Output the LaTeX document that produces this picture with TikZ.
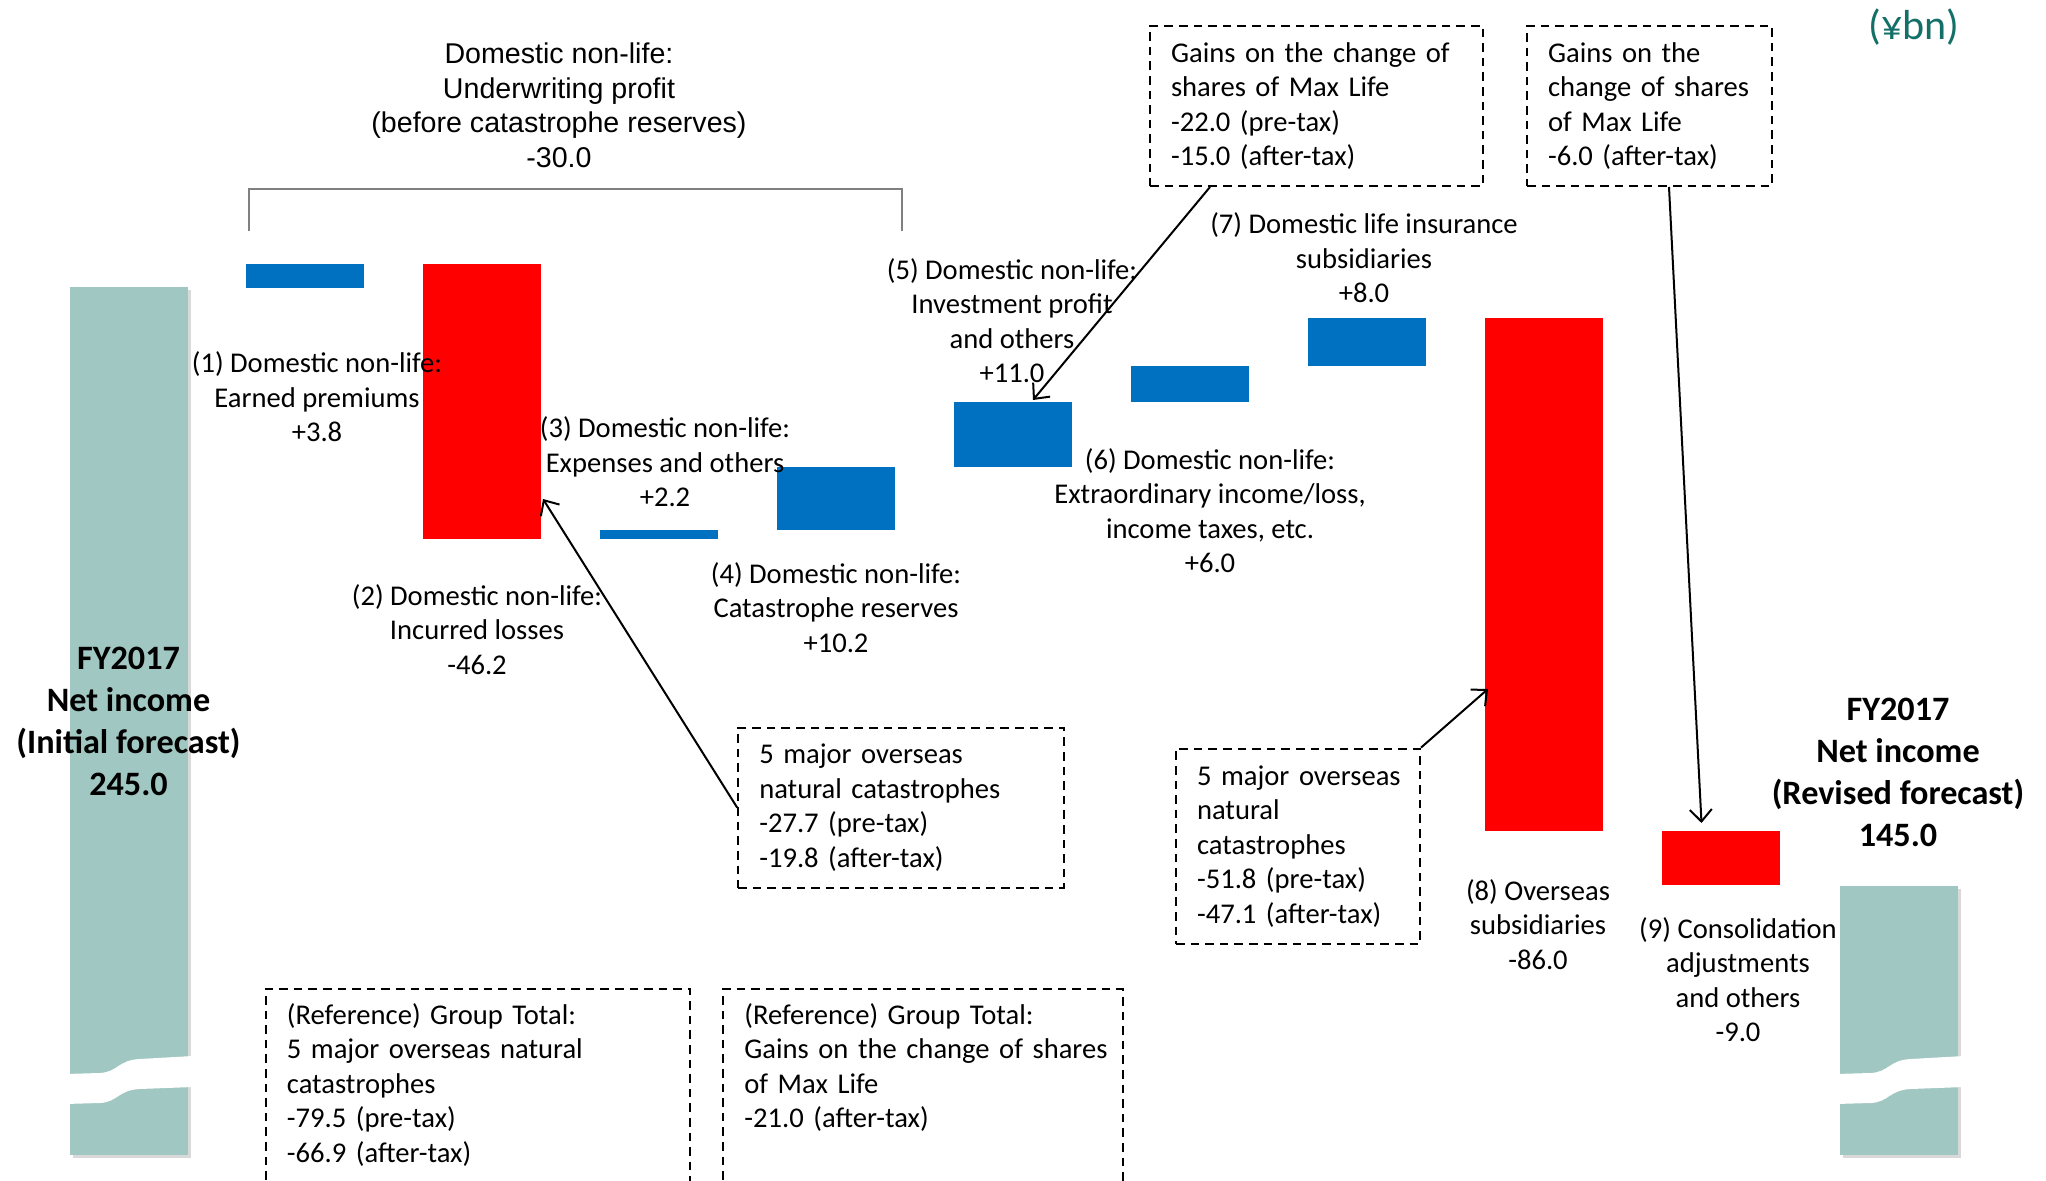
\documentclass[tikz,border=0pt]{standalone}
\usepackage{fontspec}
\setmainfont{Carlito}
\newfontfamily\titlefont{Liberation Sans}
\usetikzlibrary{calc,shadows,arrows.meta}
\definecolor{barteal}{RGB}{160,199,193}
\definecolor{barblue}{RGB}{0,112,192}
\definecolor{barred}{RGB}{255,0,0}
\definecolor{unitteal}{RGB}{18,112,104}

\begin{document}
\begin{tikzpicture}[x=0.5pt,y=-0.5pt,bar/.style={draw=none,minimum width=59pt,inner sep=0pt,outer sep=0pt},gainbar/.style={bar,fill=barblue},lossbar/.style={bar,fill=barred},totalbar/.style={bar,fill=barteal,drop shadow={shadow xshift=1.5pt,shadow yshift=-1.5pt,opacity=0.3}},barlabel/.style={align=center,inner sep=0pt,font=\fontsize{14.3}{17.25}\selectfont},totallabel/.style={align=center,inner sep=0pt,font=\fontsize{17.1}{21}\selectfont\bfseries},notetext/.style={align=left,inner xsep=10.5pt,inner ysep=7pt,font=\fontsize{14.3}{17.25}\selectfont,execute at begin node={\hyphenpenalty=10000\rightskip=0pt plus 1fil minus 40pt}},noteline/.style={dash pattern=on 4.3pt off 3pt,line width=1pt},note/.style={notetext,draw,noteline,inner ysep=0pt},arrow/.style={-{Straight Barb[length=6pt,width=11pt]},line width=1pt}]
  \useasboundingbox (0,0) rectangle (2046,1181);
  \node[totalbar,minimum height=434pt] (initial) at (128.5,721) {};
  \node[gainbar,minimum height=12pt] (premiums) at (305,276) {};
  \node[lossbar,minimum height=137.5pt] (losses) at (482,401.5) {};
  \node[gainbar,minimum height=4.5pt] (expenses) at (659,534.5) {};
  \node[gainbar,minimum height=31.5pt] (reserves) at (836,498.5) {};
  \node[gainbar,minimum height=32.5pt] (investment) at (1013,434.5) {};
  \node[gainbar,minimum height=18pt] (extraordinary) at (1190,384) {};
  \node[gainbar,minimum height=24pt] (lifesubs) at (1367,342) {};
  \node[lossbar,minimum height=256.5pt] (overseas) at (1544,574.5) {};
  \node[lossbar,minimum height=27pt] (consol) at (1721,858) {};
  \node[totalbar,minimum height=134.5pt] (revised) at (1899,1020.5) {};
  \foreach \bx in {0,1771}
    \fill[white] (65+\bx,1074) -- (100+\bx,1073) .. controls (118+\bx,1072) and (118+\bx,1060) .. (140+\bx,1059) -- (193+\bx,1056) -- (193+\bx,1087) -- (140+\bx,1089) .. controls (118+\bx,1090) and (118+\bx,1102) .. (100+\bx,1103) -- (65+\bx,1104) -- cycle;

  \draw[gray,line width=1pt] (249,231.5) |- (902,188.7) -- (902,231.5);
  \node[barlabel,font=\titlefont\fontsize{14.3}{17.2}\selectfont] (underwriting) at (559,105.3) {Domestic non-life:\\Underwriting profit\\(before catastrophe reserves)\\-30.0};
  \node[font=\fontsize{21}{24}\selectfont,text=unitteal,inner sep=0pt] (unit) at (1914,27) {(¥bn)};

  \node[totallabel] (initiallabel) at (initial) {FY2017\\Net income\\(Initial forecast)\\245.0};
  \node[barlabel] (premiumslabel) at ($ (premiums) + (12,121) $) {(1) Domestic non-life:\\Earned premiums\\+3.8};
  \node[barlabel] (losseslabel) at ($ (losses) + (-5,228) $) {(2) Domestic non-life:\\Incurred losses\\-46.2};
  \node[barlabel] (expenseslabel) at ($ (expenses) + (6,-72.5) $) {(3) Domestic non-life:\\Expenses and others\\+2.2};
  \node[barlabel] (reserveslabel) at ($ (reserves) + (0,109) $) {(4) Domestic non-life:\\Catastrophe reserves\\+10.2};
  \node[barlabel] (investmentlabel) at ($ (investment) + (-1,-114) $) {(5) Domestic non-life:\\Investment profit\\and others\\+11.0};
  \node[barlabel] (extraordinarylabel) at ($ (extraordinary) + (20,126.5) $) {(6) Domestic non-life:\\Extraordinary income/loss,\\income taxes, etc.\\+6.0};
  \node[barlabel] (lifesubslabel) at ($ (lifesubs) + (-3,-84) $) {(7) Domestic life insurance\\subsidiaries\\+8.0};
  \node[barlabel] (overseaslabel) at ($ (overseas) + (-6,350) $) {(8) Overseas\\subsidiaries\\-86.0};
  \node[barlabel] (consollabel) at ($ (consol) + (17,121.6) $) {(9) Consolidation\\adjustments\\and others\\-9.0};
  \node[totallabel] (revisedlabel) at ($ (revised) + (-1,-248) $) {FY2017\\Net income\\(Revised forecast)\\145.0};

  \node[note,text width=145.5pt,minimum height=80pt] (maxpre) at (1316.5,106) {Gains on the change of\\shares of Max Life\\-22.0 (pre-tax)\\-15.0 (after-tax)};
  \node[note,text width=101.5pt,minimum height=80pt] (maxafter) at (1649.5,106) {Gains on the\\change of shares\\of Max Life\\-6.0 (after-tax)};
  \node[note,text width=141.75pt,minimum height=80pt] (catnote) at (901,807.7) {5 major overseas\\natural catastrophes\\-27.7 (pre-tax)\\-19.8 (after-tax)};
  \node[note,text width=101pt,minimum height=97.7pt] (overnote) at (1298,846.3) {5 major overseas\\natural\\catastrophes\\-51.8 (pre-tax)\\-47.1 (after-tax)};
  \node[notetext,text width=191pt,anchor=north west] (refcat) at (265.5,989) {(Reference) Group Total:\\5 major overseas natural\\catastrophes\\-79.5 (pre-tax)\\-66.9 (after-tax)};
  \node[notetext,text width=178.5pt,anchor=north west] (refmax) at (723,989) {(Reference) Group Total:\\Gains on the change of shares\\of Max Life\\-21.0 (after-tax)};
  \draw[noteline] ($ (refcat.north west) + (0,220) $) -- (refcat.north west) -- (refcat.north east) -- ($ (refcat.north east) + (0,220) $);
  \draw[noteline] ($ (refmax.north west) + (0,220) $) -- (refmax.north west) -- (refmax.north east) -- ($ (refmax.north east) + (0,220) $);

  \draw[arrow] (catnote.west) -- ($ (losses.south east) + (2,-40) $);
  \draw[arrow] ($ (maxpre.south west) + (61,0) $) -- ($ (investment.north) + (20,-2) $);
  \draw[arrow] ($ (maxafter.south) + (19.5,0) $) -- ($ (consol.north) + (-19.5,-8) $);
  \draw[arrow] (overnote.north east) -- ($ (overseas.south west) + (3,-142) $);
\end{tikzpicture}
\end{document}
